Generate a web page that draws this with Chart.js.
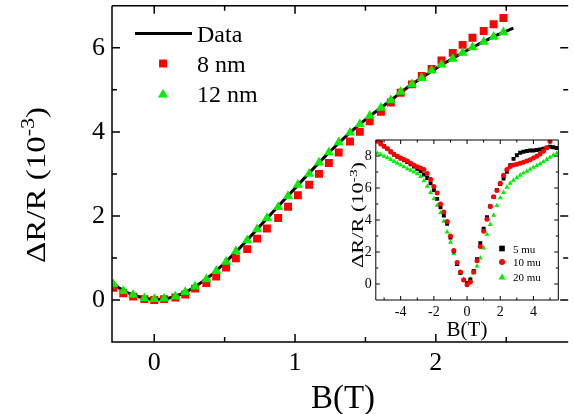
<!DOCTYPE html>
<html>
<head>
<meta charset="utf-8">
<script src="https://cdn.jsdelivr.net/npm/chart.js@4.4.0/dist/chart.umd.min.js"></script>
<style>
  html, body { margin: 0; padding: 0; background: #fff; }
  #wrap { position: relative; width: 574px; height: 414px; overflow: hidden; }
  #mainChart { position: absolute; left: 0; top: 0; }
  #insetChart { position: absolute; left: 330px; top: 128px; }
</style>
</head>
<body>
<div id="wrap">
  <canvas id="mainChart" width="574" height="414"></canvas>
  <canvas id="insetChart" width="244" height="214"></canvas>
</div>
<script>
// ---- main panel data (B in tesla, dR/R in 1e-3) ----
const fitB = [-0.3, -0.2, -0.1, 0, 0.1, 0.2, 0.3, 0.4, 0.5, 0.6, 0.7, 0.8, 0.9, 1.0, 1.1,
  1.2, 1.3, 1.4, 1.5, 1.6, 1.7, 1.8, 1.9, 2.0, 2.1, 2.2, 2.3, 2.4, 2.5, 2.55];
const fitData = [0.40, 0.19, 0.07, 0.01, 0.04, 0.15, 0.34, 0.58, 0.88, 1.21, 1.57, 1.94, 2.30, 2.66, 3.02,
  3.37, 3.70, 4.01, 4.29, 4.55, 4.80, 5.06, 5.29, 5.51, 5.71, 5.90, 6.08, 6.25, 6.40, 6.47];

const sampleB = [-0.29, -0.22, -0.15, -0.07, 0, 0.07, 0.15, 0.22, 0.29, 0.37, 0.44, 0.51, 0.58,
  0.66, 0.73, 0.80, 0.88, 0.95, 1.02, 1.10, 1.17, 1.24, 1.31, 1.39, 1.46, 1.53, 1.61, 1.68, 1.75,
  1.83, 1.90, 1.97, 2.04, 2.12, 2.19, 2.26, 2.34, 2.41, 2.48];
const nm8 = [0.29, 0.16, 0.08, 0.02, 0.00, 0.02, 0.06, 0.13, 0.27, 0.40, 0.56, 0.77, 0.99,
  1.21, 1.46, 1.70, 1.95, 2.22, 2.49, 2.74, 3.00, 3.26, 3.51, 3.77, 4.00, 4.25, 4.48, 4.70, 4.93,
  5.13, 5.33, 5.50, 5.70, 5.88, 6.07, 6.24, 6.40, 6.56, 6.71];
const nm12 = [0.37, 0.21, 0.12, 0.04, 0.02, 0.03, 0.08, 0.19, 0.32, 0.49, 0.69, 0.91, 1.16,
  1.42, 1.68, 1.95, 2.21, 2.47, 2.74, 3.00, 3.27, 3.51, 3.75, 3.98, 4.18, 4.38, 4.57, 4.75, 4.95,
  5.13, 5.28, 5.46, 5.60, 5.74, 5.88, 6.01, 6.14, 6.26, 6.37];

const mainXTicks = [0, 0.5, 1, 1.5, 2, 2.5];
const mainXLabels = [0, 1, 2];
const mainYTicks = [0, 1, 2, 3, 4, 5, 6];
const mainYLabels = [0, 2, 4, 6];

// ---- inset data ----
const insetB = [-5.4, -5.2, -5.0, -4.8, -4.6, -4.4, -4.2, -4.0, -3.8, -3.6, -3.4, -3.2, -3.0, -2.8,
  -2.6, -2.4, -2.2, -2.0, -1.8, -1.6, -1.4, -1.2, -1.0, -0.8, -0.6, -0.4, -0.2, 0, 0.2, 0.4, 0.6,
  0.8, 1.0, 1.2, 1.4, 1.6, 1.8, 2.0, 2.2, 2.4, 2.6, 2.8, 3.0, 3.2, 3.4, 3.6, 3.8, 4.0, 4.2, 4.4,
  4.6, 4.8, 5.0, 5.2, 5.4];
const mu5 = [8.95, 8.85, 8.62, 8.45, 8.28, 8.10, 7.95, 7.85, 7.73, 7.62, 7.48, 7.34, 7.20, 7.05,
  6.85, 6.62, 6.30, 5.88, 5.32, 4.80, 4.28, 3.76, 2.90, 2.05, 1.25, 0.70, 0.25, 0.05, 0.28, 0.82,
  1.55, 2.55, 3.45, 4.18, 4.86, 5.43, 5.88, 6.25, 6.60, 7.02, 7.42, 7.82, 8.05, 8.20, 8.27, 8.31,
  8.34, 8.35, 8.37, 8.40, 8.45, 8.52, 8.58, 8.55, 8.50];
const mu10 = [8.92, 8.75, 8.60, 8.45, 8.25, 8.10, 7.98, 7.88, 7.78, 7.68, 7.55, 7.42, 7.33, 7.25,
  7.15, 6.90, 6.55, 6.10, 5.68, 5.00, 4.50, 3.90, 3.00, 2.10, 1.35, 0.75, 0.25, -0.05, 0.12, 0.75,
  1.45, 2.35, 3.30, 4.05, 4.85, 5.45, 5.85, 6.30, 6.80, 7.15, 7.35, 7.43, 7.49, 7.55, 7.61, 7.68,
  7.77, 7.87, 7.98, 8.12, 8.30, 8.52, 8.90];
const mu20 = [8.17, 8.08, 7.98, 7.88, 7.78, 7.66, 7.55, 7.43, 7.32, 7.20, 7.10, 7.00, 6.88, 6.72,
  6.45, 6.10, 5.72, 5.32, 4.92, 4.45, 3.92, 3.25, 2.60, 1.90, 1.22, 0.65, 0.30, 0.05, 0.30, 0.68,
  1.12, 1.62, 2.25, 3.10, 3.72, 4.30, 4.90, 5.38, 5.72, 6.05, 6.30, 6.48, 6.64, 6.80, 6.93, 7.05,
  7.17, 7.29, 7.40, 7.51, 7.64, 7.78, 7.92, 8.05, 8.17];

const insetXTicks = [-5, -4, -3, -2, -1, 0, 1, 2, 3, 4, 5];
const insetXLabels = [-4, -2, 0, 2, 4];
const insetYTicks = [0, 1, 2, 3, 4, 5, 6, 7, 8];
const insetYLabels = [0, 2, 4, 6, 8];

const SERIF = '"Liberation Serif", "Times New Roman", serif';
const RED = '#ff0000';
const GREEN = '#00ee00';

function pairs(xs, ys) {
  return ys.map((y, i) => ({ x: xs[i], y: y }));
}

// inward tick marks on all four sides plus the frame
const frameTicks = {
  id: 'frameTicks',
  afterDraw(chart, args, opts) {
    const { ctx, chartArea: a, scales } = chart;
    ctx.save();
    ctx.strokeStyle = '#000';
    ctx.lineWidth = opts.lineWidth;
    ctx.beginPath();
    ctx.moveTo(a.left, a.top);
    ctx.lineTo(a.left, a.bottom);
    ctx.lineTo(a.right, a.bottom);
    ctx.moveTo(a.left, a.top);
    ctx.lineTo(a.right, a.top);
    if (opts.rightEdge) {
      ctx.moveTo(a.right, a.top);
      ctx.lineTo(a.right, a.bottom);
    }
    scales.x.ticks.forEach(t => {
      const px = scales.x.getPixelForValue(t.value);
      const len = t.label !== '' ? opts.major : opts.minor;
      ctx.moveTo(px, a.bottom); ctx.lineTo(px, a.bottom - len);
      ctx.moveTo(px, a.top); ctx.lineTo(px, a.top + len);
    });
    scales.y.ticks.forEach(t => {
      const py = scales.y.getPixelForValue(t.value);
      const len = t.label !== '' ? opts.major : opts.minor;
      ctx.moveTo(a.left, py); ctx.lineTo(a.left + len, py);
      ctx.moveTo(a.right, py); ctx.lineTo(a.right - len, py);
    });
    ctx.stroke();
    ctx.restore();
  }
};

// axis titles and the legend, drawn as canvas text
function drawYTitle(ctx, baseX, cy, length, size) {
  const f = size + 'px ' + SERIF;
  const fs = Math.round(size * 0.66) + 'px ' + SERIF;
  const main = '\u0394R/R (10', sup = '-3', tail = ')';
  ctx.save();
  ctx.fillStyle = '#000';
  ctx.translate(baseX, cy);
  ctx.rotate(-Math.PI / 2);
  ctx.font = f;
  const w1 = ctx.measureText(main).width;
  const w3 = ctx.measureText(tail).width;
  ctx.font = fs;
  const w2 = ctx.measureText(sup).width;
  const total = w1 + w2 + w3;
  ctx.scale(length / total, 1);
  ctx.textAlign = 'left';
  ctx.textBaseline = 'alphabetic';
  let x = -total / 2;
  ctx.font = f; ctx.fillText(main, x, 0); x += w1;
  ctx.font = fs; ctx.fillText(sup, x, -size * 0.4); x += w2;
  ctx.font = f; ctx.fillText(tail, x, 0);
  ctx.restore();
}

function drawText(ctx, text, x, y, size, align) {
  ctx.save();
  ctx.fillStyle = '#000';
  ctx.font = size + 'px ' + SERIF;
  ctx.textAlign = align || 'left';
  ctx.textBaseline = 'alphabetic';
  ctx.fillText(text, x, y);
  ctx.restore();
}

function marker(ctx, style, color, r, x, y) {
  ctx.save();
  ctx.fillStyle = color;
  ctx.strokeStyle = color;
  Chart.helpers.drawPoint(ctx, { pointStyle: style, radius: r, rotation: 0, borderWidth: 0 }, x, y);
  ctx.restore();
}

const mainDecor = {
  id: 'mainDecor',
  afterDraw(chart) {
    const ctx = chart.ctx;
    drawYTitle(ctx, 45, 185, 156, 27);
    drawText(ctx, 'B(T)', 343, 408, 33, 'center');
    // legend
    ctx.save();
    ctx.strokeStyle = '#000';
    ctx.lineWidth = 3;
    ctx.beginPath();
    ctx.moveTo(135, 33.5);
    ctx.lineTo(192, 33.5);
    ctx.stroke();
    ctx.restore();
    drawText(ctx, 'Data', 197, 42, 24);
    marker(ctx, 'rect', RED, 5.6, 163, 63.5);
    drawText(ctx, '8 nm', 197, 72, 24);
    marker(ctx, 'triangle', GREEN, 5.8, 163, 94.5);
    drawText(ctx, '12 nm', 197, 102, 24);
  }
};

const insetDecor = {
  id: 'insetDecor',
  afterDraw(chart) {
    const ctx = chart.ctx;
    drawYTitle(ctx, 33, 87, 106, 16);
    drawText(ctx, 'B(T)', 137, 208, 21, 'center');
    marker(ctx, 'rect', '#000', 4, 172, 120.5);
    drawText(ctx, '5 mu', 183, 124.5, 11);
    marker(ctx, 'circle', RED, 3, 172, 134);
    drawText(ctx, '10 mu', 183, 138, 11);
    marker(ctx, 'triangle', GREEN, 4, 172, 149.5);
    drawText(ctx, '20 mu', 183, 153, 11);
  }
};

function axis(min, max, tickList, labelList, size, padding, fitSize, horizontal) {
  return {
    type: 'linear',
    min: min,
    max: max,
    grid: { display: false, drawTicks: false },
    border: { display: false },
    afterBuildTicks: s => { s.ticks = tickList.map(v => ({ value: v })); },
    afterFit: s => {
      if (horizontal) s.height = fitSize; else s.width = fitSize;
      s.paddingTop = 0; s.paddingBottom = 0;
      s.paddingLeft = 0; s.paddingRight = 0;
    },
    ticks: {
      autoSkip: false,
      maxRotation: 0,
      padding: padding,
      color: '#000',
      font: { family: SERIF, size: size },
      callback: v => labelList.includes(v) ? String(v) : ''
    }
  };
}

new Chart(document.getElementById('mainChart').getContext('2d'), {
  type: 'scatter',
  data: {
    datasets: [
      {
        label: '12 nm',
        data: pairs(sampleB, nm12),
        pointStyle: 'triangle',
        pointRadius: 5.8,
        pointBorderWidth: 0,
        backgroundColor: GREEN,
        borderColor: GREEN,
        order: 0
      },
      {
        label: '8 nm',
        data: pairs(sampleB, nm8),
        pointStyle: 'rect',
        pointRadius: 5.6,
        pointBorderWidth: 0,
        backgroundColor: RED,
        borderColor: RED,
        order: 1
      },
      {
        label: 'Data',
        data: pairs(fitB, fitData),
        showLine: true,
        pointRadius: 0,
        borderColor: '#000',
        borderWidth: 3,
        cubicInterpolationMode: 'monotone',
        order: 2
      }
    ]
  },
  options: {
    responsive: false,
    animation: false,
    devicePixelRatio: 1,
    layout: { padding: { top: 3, right: 0, left: 0, bottom: 0 } },
    scales: {
      x: axis(-0.3, 2.94, mainXTicks, mainXLabels, 26, 6, 72, true),
      y: axis(-1, 7, mainYTicks, mainYLabels, 26, 7, 112, false)
    },
    plugins: {
      legend: { display: false },
      tooltip: { enabled: false },
      frameTicks: { lineWidth: 1.5, major: 8, minor: 5, rightEdge: false }
    }
  },
  plugins: [frameTicks, mainDecor]
});

new Chart(document.getElementById('insetChart').getContext('2d'), {
  type: 'scatter',
  data: {
    datasets: [
      {
        label: '20 mu',
        data: pairs(insetB, mu20),
        pointStyle: 'triangle',
        pointRadius: 2.9,
        pointBorderWidth: 0,
        backgroundColor: GREEN,
        borderColor: GREEN,
        order: 2
      },
      {
        label: '10 mu',
        data: pairs(insetB, mu10),
        pointStyle: 'circle',
        pointRadius: 2.5,
        pointBorderWidth: 0,
        backgroundColor: RED,
        borderColor: RED,
        order: 0
      },
      {
        label: '5 mu',
        data: pairs(insetB, mu5),
        pointStyle: 'rect',
        pointRadius: 2.8,
        pointBorderWidth: 0,
        backgroundColor: '#000',
        borderColor: '#000',
        order: 1
      }
    ]
  },
  options: {
    responsive: false,
    animation: false,
    devicePixelRatio: 1,
    layout: { padding: { top: 12, right: 15.7, left: 0, bottom: 0 } },
    scales: {
      x: axis(-5.5, 5.5, insetXTicks, insetXLabels, 14, 4, 42, true),
      y: axis(-1, 9, insetYTicks, insetYLabels, 14, 4, 45.8, false)
    },
    plugins: {
      legend: { display: false },
      tooltip: { enabled: false },
      frameTicks: { lineWidth: 1, major: 4, minor: 2.5, rightEdge: true }
    }
  },
  plugins: [frameTicks, insetDecor]
});
</script>
</body>
</html>
